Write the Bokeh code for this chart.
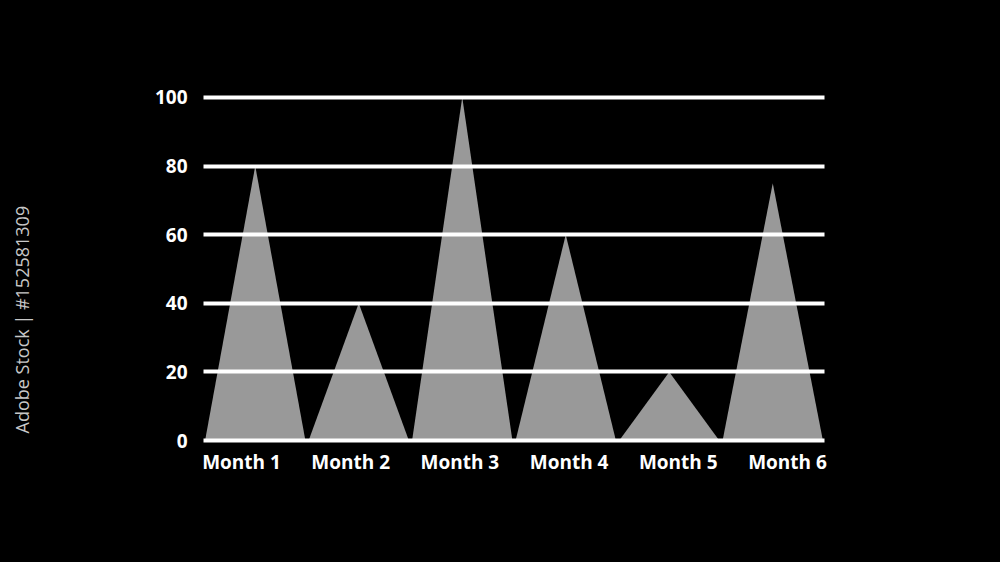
import math
from bokeh.plotting import figure
from bokeh.layouts import row
from bokeh.models import Range1d, FixedTicker, LinearAxis, Label
from bokeh.embed import file_html
from bokeh.resources import INLINE

months = ["Month 1", "Month 2", "Month 3", "Month 4", "Month 5", "Month 6"]
values = [80, 40, 100, 60, 20, 75]
y_ticks = [0, 20, 40, 60, 80, 100]

BG = "#000000"
FILL = "#999999"
FONT = "Open Sans"
SIDE_W = 44

# narrow strip on the left holding the vertical credit text
side = figure(width=SIDE_W, height=562, output_backend="svg", toolbar_location=None,
              x_range=Range1d(0, 1), y_range=Range1d(0, 1),
              x_axis_location=None, y_axis_location=None,
              background_fill_color=BG, border_fill_color=BG,
              min_border_left=0, min_border_right=0, min_border_top=0, min_border_bottom=0)
side.outline_line_color = None
side.xgrid.grid_line_color = None
side.ygrid.grid_line_color = None
side.styles = {"background-color": BG}
side.add_layout(Label(x=21, y=14, x_units="screen", y_units="screen",
                      text="Adobe Stock | #152581309", angle=math.pi / 2,
                      text_align="left", text_baseline="middle",
                      text_color="#c8c8c8", text_font=FONT, text_font_size="18px"))

p = figure(width=1000 - SIDE_W, height=562, output_backend="svg", toolbar_location=None,
           x_range=Range1d(0, len(months)), y_range=Range1d(-2, 102),
           x_axis_location=None,
           background_fill_color=None, border_fill_color=BG,
           min_border_left=203 - SIDE_W, min_border_right=176,
           min_border_top=90, min_border_bottom=115)
p.styles = {"background-color": BG}
p.outline_line_color = None

# triangles
half = 0.485
xs = [[i + 0.5 - half, i + 0.5, i + 0.5 + half] for i in range(len(months))]
ys = [[0, v, 0] for v in values]
p.patches(xs, ys, fill_color=FILL, line_color=None)

# grid
p.xgrid.grid_line_color = None
p.ygrid.ticker = FixedTicker(ticks=y_ticks)
p.ygrid.grid_line_color = "white"
p.ygrid.grid_line_width = 4
p.ygrid.level = "overlay"

# y axis
p.yaxis.ticker = FixedTicker(ticks=y_ticks)
p.yaxis.axis_line_color = None
p.yaxis.major_tick_line_color = None
p.yaxis.minor_tick_line_color = None
p.yaxis.major_label_text_color = "white"
p.yaxis.major_label_text_font = FONT
p.yaxis.major_label_text_font_style = "bold"
p.yaxis.major_label_text_font_size = "19px"
p.yaxis.major_label_standoff = 10

# x axis labels (spread evenly across the plot width)
p.extra_x_ranges = {"lab": Range1d(-0.348, 5.339)}
xa = LinearAxis(x_range_name="lab")
xa.ticker = FixedTicker(ticks=list(range(len(months))))
xa.major_label_overrides = {i: m for i, m in enumerate(months)}
xa.axis_line_color = None
xa.major_tick_line_color = None
xa.minor_tick_line_color = None
xa.major_label_text_color = "white"
xa.major_label_text_font = FONT
xa.major_label_text_font_style = "bold"
xa.major_label_text_font_size = "19px"
xa.major_label_standoff = -5
p.add_layout(xa, "below")

layout = row(side, p, spacing=0)
layout.styles = {"background-color": BG}

open("out.html", "w").write(file_html(layout, INLINE))
